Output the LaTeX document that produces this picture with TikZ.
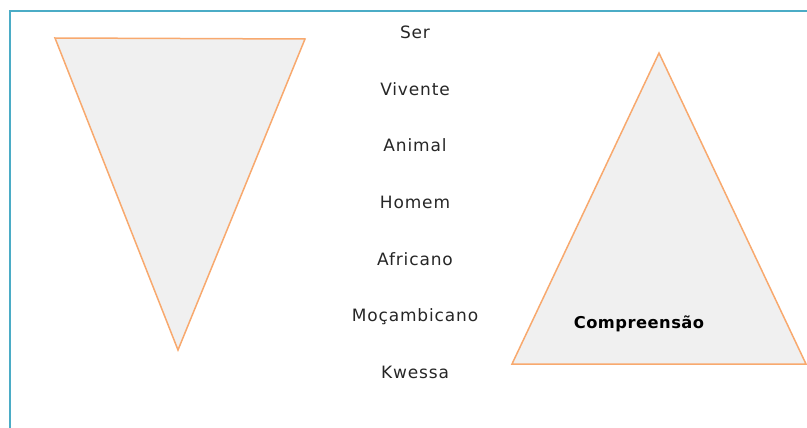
\documentclass[tikz,border=0pt]{standalone}
\usepackage{fontspec}
\setmainfont{DejaVu Sans}
\newfontfamily\levelfont[LetterSpace=5]{DejaVu Sans}
\newfontfamily\boldlabel[LetterSpace=3]{DejaVu Sans Bold}
\definecolor{frameblue}{HTML}{4BACC6}
\definecolor{triorange}{HTML}{F8A96E}
\definecolor{trifill}{HTML}{F0F0F0}
\definecolor{textdark}{HTML}{262626}
\tikzset{
  tri/.style={draw=triorange, fill=trifill, line width=1.5pt, line join=miter},
  level/.style={anchor=base, inner sep=0pt, text=textdark, font=\levelfont\fontsize{17}{19}\selectfont},
  tlabel/.style={anchor=base, inner sep=0pt, text=black, font=\boldlabel\fontsize{16.3}{19}\selectfont}
}
\begin{document}
\begin{tikzpicture}[x=1pt,y=-1pt]
\useasboundingbox (0,0) rectangle (807,428);
\begin{scope}
\clip (0,0) rectangle (807,428);
% frame
\draw[frameblue, line width=2pt] (9.5,430) -- (9.5,11) -- (810,11);
% inverted triangle
\coordinate (A1) at (55,38);
\coordinate (A2) at (305,39);
\coordinate (A3) at (178,350);
\draw[tri] (A1) -- (A2) -- (A3) -- cycle;
% upright triangle
\coordinate (B1) at (659,53);
\coordinate (B2) at (806,364);
\coordinate (B3) at (512,364);
\draw[tri] (B1) -- (B2) -- (B3) -- cycle;
\end{scope}
% levels
\node[level] (ser) at (415,39) {Ser};
\node[level] (viv) at (415,95.5) {Vivente};
\node[level] (ani) at (415,152) {Animal};
\node[level] (hom) at (415,208.5) {Homem};
\node[level] (afr) at (415,265) {Africano};
\node[level] (moc) at (415,321.5) {Moçambicano};
\node[level] (kwe) at (415,378) {Kwessa};
\node[tlabel] (comp) at (639,328) {Compreensão};
\end{tikzpicture}
\end{document}
